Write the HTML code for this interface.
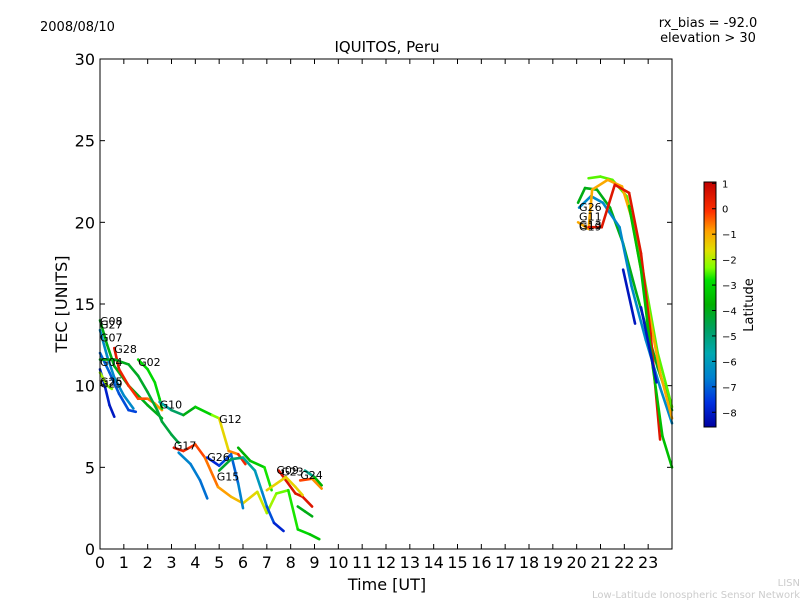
<!DOCTYPE html>
<html><head><meta charset="utf-8"><style>
body{margin:0;background:#fff;width:800px;height:600px;overflow:hidden;font-family:"DejaVu Sans","Liberation Sans",sans-serif}
svg text{font-family:"DejaVu Sans","Liberation Sans",sans-serif}
</style></head><body>
<svg id="c" width="800" height="600" xmlns="http://www.w3.org/2000/svg">
<defs><linearGradient id="jet" x1="0" y1="1" x2="0" y2="0">
<stop offset="0" stop-color="#0000a0"/><stop offset="0.1" stop-color="#0030e0"/><stop offset="0.2" stop-color="#0080d0"/><stop offset="0.3" stop-color="#00a8b0"/><stop offset="0.4" stop-color="#00a060"/><stop offset="0.5" stop-color="#00b000"/><stop offset="0.6" stop-color="#00e000"/><stop offset="0.65" stop-color="#80ff00"/><stop offset="0.72" stop-color="#e0e000"/><stop offset="0.8" stop-color="#ffa000"/><stop offset="0.88" stop-color="#ff3000"/><stop offset="1" stop-color="#c00000"/></linearGradient></defs>
<text x="40" y="31" font-size="13">2008/08/10</text>
<text x="708" y="27" font-size="13" text-anchor="middle">rx_bias = -92.0</text>
<text x="708" y="42" font-size="13" text-anchor="middle">elevation &gt; 30</text>
<text x="387" y="52" font-size="15" text-anchor="middle">IQUITOS, Peru</text>
<text x="387" y="590" font-size="16" text-anchor="middle">Time [UT]</text>
<text transform="translate(67,304) rotate(-90)" font-size="16" text-anchor="middle">TEC [UNITS]</text>
<text x="800" y="586" font-size="10" fill="#ccc" text-anchor="end">LISN</text>
<text x="800" y="598" font-size="10" fill="#ccc" text-anchor="end">Low-Latitude Ionospheric Sensor Network</text>
<g id="plot"></g>
<rect x="100" y="59" width="572" height="490" fill="none" stroke="#000" stroke-width="1"/>
<rect x="704" y="182" width="12" height="245" fill="url(#jet)" stroke="#000" stroke-width="1"/>
<text transform="translate(753,305) rotate(-90)" font-size="13" text-anchor="middle">Latitude</text>
<g id="cbt"></g>
</svg>
<script>
const xTicks=[0,1,2,3,4,5,6,7,8,9,10,11,12,13,14,15,16,17,18,19,20,21,22,23];
const yTicks=[0,5,10,15,20,25,30];
const cbTicks=[1,0,-1,-2,-3,-4,-5,-6,-7,-8];
const sTimes=[
[0,0.3,0.6,1.0,1.4],
[0,0.3,0.6,1.2,2.0,2.6],
[0,0.4,0.8,1.2,1.5],
[0,0.2,0.4,0.6],
[0,0.3,0.5],
[0.6,0.8,1.2,1.6,2.0,2.3,2.6],
[0,0.6,1.2,1.6,2.0,2.4,2.6,3.0,3.3],
[1.6,2.0,2.3,2.5,2.6],
[2.5,3.0,3.5,4.0,4.7,5.0,5.4,5.8,6.1],
[3.1,3.5,4.0,4.4,4.95,5.5,6.0,6.6,7.0,7.4,7.9,8.3,8.8,9.2],
[3.3,3.8,4.2,4.5],
[4.5,5.0,5.5,5.8,6.0],
[5.0,5.5,6.0,6.5,6.8,7.0,7.3,7.7],
[5.8,6.3,6.9,7.2],
[7.5,7.8,8.2,8.5,8.9],
[8.3,8.6,8.9],
[8.4,8.9,9.3],
[7.0,7.4,7.8,8.2,8.5],
[8.6,9.0,9.3],
[20.06,20.35,20.85,21.4,21.95,22.5,23.4,24],
[20.1,20.6,21.1,21.8,22.3,22.9,23.5,24],
[20.5,21.0,21.5,22.1,22.7,23.4,24],
[20.06,20.5,20.65,21.3,21.9,22.3,22.8,23.5,24],
[20.5,21.05,21.6,22.2,22.7,23.1,23.5],
[22.2,22.7,23.2,23.6,24],
[21.95,22.45],
[22.7,23.35]];
const sTec=[
[13.4,11.8,10.5,9.4,8.6],
[14.0,12.5,11.2,10.0,8.8,8.0],
[12.0,10.8,9.5,8.5,8.4],
[11.0,10.0,8.8,8.1],
[10.8,10.0,9.8],
[12.3,11.0,10.0,9.2,9.2,8.9,8.5],
[11.6,11.6,11.3,10.6,9.6,8.5,7.8,7.0,6.5],
[11.6,11.0,10.2,9.2,8.6],
[9.0,8.5,8.2,8.7,8.2,8.0,6.0,5.8,5.2],
[6.2,6.0,6.4,5.6,3.8,3.2,2.8,3.5,2.2,3.4,3.6,1.2,0.9,0.6],
[5.9,5.2,4.2,3.1],
[5.6,5.1,5.8,4.0,2.5],
[4.8,5.5,5.6,4.8,3.5,2.6,1.6,1.1],
[6.2,5.4,5.0,3.6],
[4.8,4.2,3.4,3.2,2.6],
[2.6,2.3,2.0],
[4.2,4.3,3.7],
[3.6,4.0,4.4,3.8,3.3],
[4.8,4.4,3.9],
[21.2,22.1,22.0,20.9,18.7,15.7,11.1,8.5],
[20.9,21.6,21.2,19.7,16.1,12.8,9.9,7.7],
[22.7,22.8,22.6,21.6,17.7,12.0,8.7],
[20.0,19.6,22.0,22.6,22.2,20.3,16.3,10.8,8.0],
[19.7,19.7,22.3,21.8,18.1,13.2,6.7],
[21.0,17.1,11.1,6.9,5.0],
[17.1,13.8],
[14.8,10.2]];
const sLatStart=[-6.5,-4,-7,-7.8,-2,0.6,-4,-3,-6,0.5,-6.5,-8,-4,-4,0.6,-4,0,-1.5,-6,-4,-6.5,-2.5,-1,0.5,-3.5,-8.2,-8.2];
const sLatEnd=[-6.5,-4,-7.5,-8.2,-2.5,-1,-4.5,-3,0.5,-3.5,-7,-6.5,-8.2,-2.5,0.5,-4,-1,-1.5,-3,-4,-6.5,-2.5,-1,0.5,-3.5,-8.2,-8.2];
const labelText=["G08","G27","G07","G28","G04","G02","G25","G29","G10","G12","G17","G26","G15","G09","G23","G24","G26","G11","G13","G19"];
const labelT=[0,0,0,0.6,0,1.6,0,0,2.5,5.0,3.1,4.5,4.9,7.4,7.6,8.4,20.1,20.1,20.1,20.1];
const labelTec=[13.7,13.5,12.7,12.0,11.2,11.2,10.0,9.9,8.6,7.7,6.1,5.4,4.2,4.6,4.5,4.3,20.7,20.1,19.6,19.5];

const X0=100,X1=672,Y0=549,Y1=59;
const xs=t=>X0+t*(X1-X0)/24;
const ys=v=>Y0-v*(Y0-Y1)/30;
const cbY=l=>183.3+(1-l)*25.44;
const NS="http://www.w3.org/2000/svg";
const cmStops=[[0,[0,0,160]],[0.1,[0,48,224]],[0.2,[0,128,208]],[0.3,[0,168,176]],[0.4,[0,160,96]],[0.5,[0,176,0]],[0.6,[0,224,0]],[0.65,[128,255,0]],[0.72,[224,224,0]],[0.8,[255,160,0]],[0.88,[255,48,0]],[1,[192,0,0]]];
function jet(l){let v=(l+8.65)/9.7;v=Math.max(0,Math.min(1,v));
 for(let i=0;i<cmStops.length-1;i++){const a=cmStops[i],b=cmStops[i+1];
  if(v<=b[0]){const f=(v-a[0])/(b[0]-a[0]);const c=a[1].map((x,k)=>Math.round(x+(b[1][k]-x)*f));return `rgb(${c[0]},${c[1]},${c[2]})`;}}
 return 'rgb(192,0,0)';}
const plot=document.getElementById('plot');
function mk(tag,attrs,parent){const e=document.createElementNS(NS,tag);for(const k in attrs)e.setAttribute(k,attrs[k]);parent.appendChild(e);return e;}
xTicks.forEach(t=>{
 const g=mk('g',{},plot);
 
 
 mk('line',{x1:xs(t),x2:xs(t),y1:Y0,y2:Y0-5,stroke:'#000'},g);
 mk('line',{x1:xs(t),x2:xs(t),y1:Y1,y2:Y1+5,stroke:'#000'},g);
 const tx=mk('text',{x:xs(t),y:568,'font-size':16,'text-anchor':'middle'},g);tx.textContent=t;
});
yTicks.forEach(v=>{
 const g=mk('g',{},plot);
 
 
 mk('line',{x1:X0,x2:X0+5,y1:ys(v),y2:ys(v),stroke:'#000'},g);
 mk('line',{x1:X1,x2:X1-5,y1:ys(v),y2:ys(v),stroke:'#000'},g);
 const tx=mk('text',{x:95,y:ys(v)+6,'font-size':16,'text-anchor':'end'},g);tx.textContent=v;
});
sTimes.forEach((ts,i)=>{
 const g=mk('g',{},plot);
 
 
 const n=ts.length;
 for(let j=0;j<n-1;j++){
  const fr=n>2?(j+0.5)/(n-1):0.5;
  const lat=sLatStart[i]+(sLatEnd[i]-sLatStart[i])*fr;
  mk('line',{x1:xs(ts[j]),y1:ys(sTec[i][j]),x2:xs(ts[j+1]),y2:ys(sTec[i][j+1]),stroke:jet(lat),'stroke-width':2.6,'stroke-linecap':'round'},g);
 }
});
labelText.forEach((s,i)=>{
 const t=mk('text',{x:xs(labelT[i]),y:ys(labelTec[i]),'font-size':11},plot);
 
 
 t.textContent=s;
});
const cb=document.getElementById('cbt');
cbTicks.forEach(l=>{
 const g=mk('g',{},cb);
 
 
 mk('line',{x1:712,x2:716,y1:cbY(l),y2:cbY(l),stroke:'#000'},g);
 const t=mk('text',{x:722,y:cbY(l)+4,'font-size':10},g);t.textContent=l<0?'\u2212'+(-l):l;
});
</script>
</body></html>
